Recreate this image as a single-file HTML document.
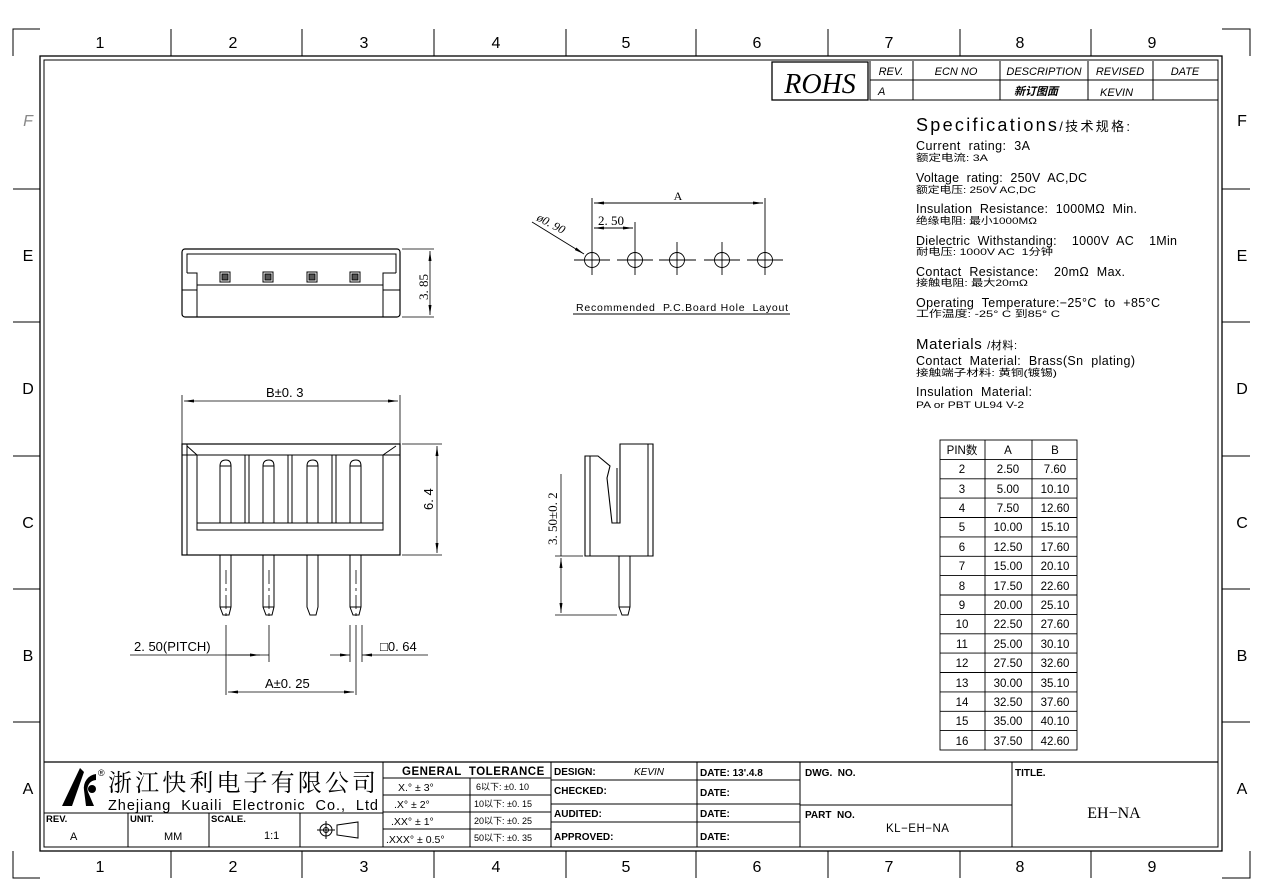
<!DOCTYPE html>
<html><head><meta charset="utf-8"><style>
html,body{margin:0;padding:0;background:#fff;}
svg{display:block;}
text{font-family:"Liberation Sans","Noto Sans CJK SC",sans-serif;fill:#000;white-space:pre;}
.s{font-family:"Liberation Serif","Noto Serif CJK SC",serif;}
.m{font-family:"Liberation Mono","Noto Sans CJK SC",monospace;}
.b{font-weight:bold;}
</style></head><body>
<svg width="1262" height="892" viewBox="0 0 1262 892" xmlns="http://www.w3.org/2000/svg" xml:space="preserve">
<g fill="none" stroke="#000" stroke-width="1">
<rect x="40" y="56" width="1182" height="795" stroke-width="1.3"/>
<rect x="44" y="60" width="1174" height="787"/>
<path d="M13 56V29H40M1222 29H1250V56M13 851V878H40M1222 878H1250V851"/>
<path d="M171 29V56M302 29V56M434 29V56M566 29V56M696 29V56M828 29V56M960 29V56M1091 29V56"/>
<path d="M171 851V878M302 851V878M434 851V878M566 851V878M696 851V878M828 851V878M960 851V878M1091 851V878"/>
<path d="M13 189H40M13 322H40M13 456H40M13 589H40M13 722H40"/>
<path d="M1222 189H1250M1222 322H1250M1222 456H1250M1222 589H1250M1222 722H1250"/>
</g>
<g font-size="16" text-anchor="middle">
<text x="100" y="48">1</text><text x="233" y="48">2</text><text x="364" y="48">3</text><text x="496" y="48">4</text><text x="626" y="48">5</text><text x="757" y="48">6</text><text x="889" y="48">7</text><text x="1020" y="48">8</text><text x="1152" y="48">9</text>
<text x="100" y="872">1</text><text x="233" y="872">2</text><text x="364" y="872">3</text><text x="496" y="872">4</text><text x="626" y="872">5</text><text x="757" y="872">6</text><text x="889" y="872">7</text><text x="1020" y="872">8</text><text x="1152" y="872">9</text>
<text x="28" y="126" font-style="italic" style="fill:#888">F</text><text x="28" y="261">E</text><text x="28" y="394">D</text><text x="28" y="528">C</text><text x="28" y="661">B</text><text x="28" y="794">A</text>
<text x="1242" y="126">F</text><text x="1242" y="261">E</text><text x="1242" y="394">D</text><text x="1242" y="528">C</text><text x="1242" y="661">B</text><text x="1242" y="794">A</text>
</g>

<g fill="none" stroke="#000">
<rect x="772" y="62" width="96" height="38" stroke-width="1.3"/>
<path d="M870 61V100H1218M870 80H1218M913 61V100M1000 61V100M1088 61V100M1153 61V100"/>
</g>
<text x="820" y="93" class="s" font-size="28" text-anchor="middle" font-style="italic">ROHS</text>
<g font-size="11" font-style="italic" text-anchor="middle">
<text x="891" y="75">REV.</text><text x="956" y="75">ECN NO</text><text x="1044" y="75">DESCRIPTION</text><text x="1120" y="75">REVISED</text><text x="1185" y="75">DATE</text>
<text x="878" y="95" text-anchor="start">A</text><text x="1036" y="95" class="b">新订图面</text><text x="1100" y="96" text-anchor="start">KEVIN</text>
</g>

<text x="916" y="131" font-size="18" textLength="214" lengthAdjust="spacing">Specifications<tspan font-size="13">/技术规格:</tspan></text>
<g font-size="12.5">
<text x="916" y="150" textLength="114" lengthAdjust="spacing">Current  rating:  3A</text>
<text x="916" y="182" textLength="171" lengthAdjust="spacing">Voltage  rating:  250V  AC,DC</text>
<text x="916" y="213" textLength="221" lengthAdjust="spacing">Insulation  Resistance:  1000MΩ  Min.</text>
<text x="916" y="245" textLength="261" lengthAdjust="spacing">Dielectric  Withstanding:    1000V  AC    1Min</text>
<text x="916" y="276" textLength="209" lengthAdjust="spacing">Contact  Resistance:    20mΩ  Max.</text>
<text x="916" y="307" textLength="244" lengthAdjust="spacing">Operating  Temperature:−25°C  to  +85°C</text>
<text x="916" y="365" textLength="219" lengthAdjust="spacing">Contact  Material:  Brass(Sn  plating)</text>
<text x="916" y="396" textLength="116" lengthAdjust="spacing">Insulation  Material:</text>
</g>
<text x="916" y="349" font-size="15" textLength="101" lengthAdjust="spacing">Materials <tspan font-size="11">/材料:</tspan></text>
<g font-size="9.5" class="m">
<text x="916" y="161" textLength="72" lengthAdjust="spacingAndGlyphs">额定电流: 3A</text>
<text x="916" y="193" textLength="120" lengthAdjust="spacingAndGlyphs">额定电压: 250V AC,DC</text>
<text x="916" y="224" textLength="121" lengthAdjust="spacingAndGlyphs">绝缘电阻: 最小1000MΩ</text>
<text x="916" y="255" textLength="137" lengthAdjust="spacingAndGlyphs">耐电压: 1000V AC  1分钟</text>
<text x="916" y="286" textLength="112" lengthAdjust="spacingAndGlyphs">接触电阻: 最大20mΩ</text>
<text x="916" y="317" textLength="144" lengthAdjust="spacingAndGlyphs">工作温度: -25° C 到85° C</text>
<text x="916" y="376" textLength="141" lengthAdjust="spacingAndGlyphs">接触端子材料: 黄铜(镀锡)</text>
<text x="916" y="408" textLength="108" lengthAdjust="spacingAndGlyphs">PA or PBT UL94 V-2</text>
</g>

<g fill="none" stroke="#000" stroke-width="0.9">
<rect x="940" y="440" width="137" height="310"/>
<path d="M985 440V750M1032 440V750"/>
<path d="M940 459.4H1077M940 478.8H1077M940 498.1H1077M940 517.5H1077M940 536.9H1077M940 556.3H1077M940 575.6H1077M940 595H1077M940 614.4H1077M940 633.8H1077M940 653.1H1077M940 672.5H1077M940 691.9H1077M940 711.3H1077M940 730.6H1077"/>
</g>
<g font-size="11.5" text-anchor="middle">
<text x="962" y="454">PIN数</text><text x="1008" y="454">A</text><text x="1055" y="454">B</text>
<text x="962" y="473">2</text><text x="1008" y="473">2.50</text><text x="1055" y="473">7.60</text>
<text x="962" y="493">3</text><text x="1008" y="493">5.00</text><text x="1055" y="493">10.10</text>
<text x="962" y="512">4</text><text x="1008" y="512">7.50</text><text x="1055" y="512">12.60</text>
<text x="962" y="531">5</text><text x="1008" y="531">10.00</text><text x="1055" y="531">15.10</text>
<text x="962" y="551">6</text><text x="1008" y="551">12.50</text><text x="1055" y="551">17.60</text>
<text x="962" y="570">7</text><text x="1008" y="570">15.00</text><text x="1055" y="570">20.10</text>
<text x="962" y="590">8</text><text x="1008" y="590">17.50</text><text x="1055" y="590">22.60</text>
<text x="962" y="609">9</text><text x="1008" y="609">20.00</text><text x="1055" y="609">25.10</text>
<text x="962" y="628">10</text><text x="1008" y="628">22.50</text><text x="1055" y="628">27.60</text>
<text x="962" y="648">11</text><text x="1008" y="648">25.00</text><text x="1055" y="648">30.10</text>
<text x="962" y="667">12</text><text x="1008" y="667">27.50</text><text x="1055" y="667">32.60</text>
<text x="962" y="687">13</text><text x="1008" y="687">30.00</text><text x="1055" y="687">35.10</text>
<text x="962" y="706">14</text><text x="1008" y="706">32.50</text><text x="1055" y="706">37.60</text>
<text x="962" y="725">15</text><text x="1008" y="725">35.00</text><text x="1055" y="725">40.10</text>
<text x="962" y="745">16</text><text x="1008" y="745">37.50</text><text x="1055" y="745">42.60</text>
</g>

<defs>
<marker id="ar" markerWidth="10" markerHeight="6" refX="10" refY="3" orient="auto-start-reverse" markerUnits="userSpaceOnUse"><path d="M0 1.5L10 3L0 4.5Z" fill="#000"/></marker>
</defs>

<g fill="none" stroke="#000">
<rect x="182" y="249" width="218" height="68" rx="3" stroke-width="1.2"/>
<path d="M187 273V254H396V273M182 290H197M383 290H400M187 273H197V317M396 273H383V317M197 285H383"/>
<rect x="220" y="272" width="10" height="10"/><rect x="263" y="272" width="10" height="10"/><rect x="307" y="272" width="10" height="10"/><rect x="350" y="272" width="10" height="10"/>
<rect x="222" y="274" width="6" height="6" fill="#555"/><rect x="265" y="274" width="6" height="6" fill="#555"/><rect x="309" y="274" width="6" height="6" fill="#555"/><rect x="352" y="274" width="6" height="6" fill="#555"/>
<path d="M402 249H434M402 317H434" stroke-width="0.8"/>
<path d="M430 251V315" stroke-width="0.8" marker-start="url(#ar)" marker-end="url(#ar)"/>
</g>
<text class="s" font-size="13" transform="translate(428 300) rotate(-90)">3. 85</text>

<g fill="none" stroke="#000">
<path d="M182 395V444M400 395V444" stroke-width="0.8"/>
<path d="M184 401H398" stroke-width="0.8" marker-start="url(#ar)" marker-end="url(#ar)"/>
<rect x="182" y="444" width="218" height="111" stroke-width="1.2"/>
<path d="M187 444V555M182 455H400M197 455V530H383V455M197 523H383"/>
<path d="M197 455L187 446M383 455L396 446"/>
<path d="M245 455V523M249 455V523M288 455V523M292 455V523M332 455V523M336 455V523"/>
<path d="M220 523V466Q220 460 226 460Q231 460 231 466V523M220 466H231"/>
<path d="M263 523V466Q263 460 269 460Q274 460 274 466V523M263 466H274"/>
<path d="M307 523V466Q307 460 313 460Q318 460 318 466V523M307 466H318"/>
<path d="M350 523V466Q350 460 356 460Q361 460 361 466V523M350 466H361"/>
<path d="M220 555V607L223 615H229L231 607V555M220 607H231"/>
<path d="M263 555V607L266 615H272L274 607V555M263 607H274"/>
<path d="M307 555V607L310 615H316L318 607V555"/>
<path d="M350 555V607L353 615H359L361 607V555M350 607H361"/>
<path d="M226 570V620M269 570V620M356 570V620" stroke-dasharray="14,4,3,4" stroke-width="0.8"/>
<path d="M226 625V695M269 625V662M356 625V695M350 625V662M362 625V662" stroke-width="0.8"/>
<path d="M130 655H226M226 655H269" stroke-width="0.8"/>
<path d="M228 655H260" stroke-width="0.8" marker-end="url(#ar)"/>
<path d="M330 655H350" stroke-width="0.8" marker-end="url(#ar)"/>
<path d="M382 655H362" stroke-width="0.8" marker-end="url(#ar)"/>
<path d="M382 655H428" stroke-width="0.8"/>
<path d="M228 692H354" stroke-width="0.8" marker-start="url(#ar)" marker-end="url(#ar)"/>
<path d="M402 444H442M402 555H442" stroke-width="0.8"/>
<path d="M437 446V553" stroke-width="0.8" marker-start="url(#ar)" marker-end="url(#ar)"/>
</g>
<g class="s" font-size="13">
<text x="266" y="397">B±0. 3</text>
<text x="134" y="651">2. 50(PITCH)</text>
<text x="380" y="651">□0. 64</text>
<text x="265" y="688">A±0. 25</text>
<text transform="translate(433 510) rotate(-90)">6. 4</text>
</g>

<g fill="none" stroke="#000" stroke-width="0.9">
<circle cx="592" cy="260" r="7.5"/><circle cx="635" cy="260" r="7.5"/><circle cx="677" cy="260" r="7.5"/><circle cx="722" cy="260" r="7.5"/><circle cx="765" cy="260" r="7.5"/>
<path d="M574 260H610M617 260H653M659 260H696M704 260H740M747 260H783"/>
<path d="M592 198V275M765 198V275M635 222V275M677 242V275M722 242V275"/>
<path d="M594 203H763" marker-start="url(#ar)" marker-end="url(#ar)"/>
<path d="M594 228H633" marker-start="url(#ar)" marker-end="url(#ar)"/>
<path d="M532 222L584 254" marker-end="url(#ar)"/>
<path d="M573 314H790"/>
</g>
<text x="678" y="200" class="s" font-size="12" text-anchor="middle">A</text>
<text x="598" y="225" class="s" font-size="13">2. 50</text>
<text class="s" font-size="12" font-style="italic" transform="translate(536 220) rotate(28)">ø0. 90</text>
<text x="576" y="311" font-size="10.5" textLength="212" lengthAdjust="spacing">Recommended  P.C.Board Hole  Layout</text>

<g fill="none" stroke="#000">
<path d="M585 556V456H598L610 466L607 478L612 523H620V444H653V556Z" stroke-width="1.1"/>
<path d="M590 456V556M648 444V556M617 468V523"/>
<path d="M619 556V607L622 615H628L630 607V556M619 607H630"/>
<path d="M555 556H583M555 615H617" stroke-width="0.8"/>
<path d="M561 474V556" stroke-width="0.8"/>
<path d="M561 558V613" stroke-width="0.8" marker-start="url(#ar)" marker-end="url(#ar)"/>
</g>
<text class="s" font-size="13" transform="translate(557 545) rotate(-90)">3. 50±0. 2</text>

<g fill="none" stroke="#000">
<path d="M44 762H1218" stroke-width="1.3"/>
<path d="M383 762V847M551 762V847M697 762V847M800 762V847M1012 762V847"/>
<path d="M44 813H383M128 813V847M209 813V847M300 813V847"/>
<path d="M383 778H551M383 795H551M383 812H551M383 829H551M470 778V847"/>
<path d="M551 780H800M551 804H800M551 822H800"/>
<path d="M800 805H1012"/>
</g>
<path d="M62 806L80 768L84 772L72 806Z" fill="#000"/>
<path d="M84 790A14 14 0 0 1 96 774L96 780A9 9 0 0 0 88 792L94 806L86 806Z" fill="#000"/>
<circle cx="92" cy="789" r="4" fill="#000"/>
<text x="98" y="776" font-size="9">®</text>
<text x="108" y="791" font-size="24" class="s" textLength="268" lengthAdjust="spacing">浙江快利电子有限公司</text>
<text x="108" y="810" font-size="14.5" textLength="270" lengthAdjust="spacing">Zhejiang  Kuaili  Electronic  Co.,  Ltd</text>
<g font-size="9.5" class="b">
<text x="46" y="822">REV.</text><text x="130" y="822">UNIT.</text><text x="211" y="822">SCALE.</text>
</g>
<g font-size="11">
<text x="70" y="840">A</text><text x="164" y="840">MM</text><text x="264" y="839">1:1</text>
</g>
<g fill="none" stroke="#000"><circle cx="326" cy="830" r="6"/><circle cx="326" cy="830" r="2.5"/><path d="M317 830H335M326 821V839M337 825L358 822V838L337 835Z"/></g>
<g font-size="11.5" class="b"><text x="402" y="775" letter-spacing="0.5">GENERAL  TOLERANCE</text></g>
<g font-size="10.5">
<text x="398" y="791">X.° ± 3°</text><text x="394" y="808">.X° ± 2°</text><text x="391" y="825">.XX° ± 1°</text><text x="386" y="843">.XXX° ± 0.5°</text>
</g>
<g font-size="9" class="m">
<text x="476" y="790">6以下: ±0. 10</text><text x="474" y="807">10以下: ±0. 15</text><text x="474" y="824">20以下: ±0. 25</text><text x="474" y="841">50以下: ±0. 35</text>
</g>
<g font-size="10" class="b">
<text x="554" y="775">DESIGN:</text><text x="554" y="794">CHECKED:</text><text x="554" y="817">AUDITED:</text><text x="554" y="840">APPROVED:</text>
<text x="700" y="776">DATE: 13'.4.8</text><text x="700" y="796">DATE:</text><text x="700" y="817">DATE:</text><text x="700" y="840">DATE:</text>
<text x="805" y="776">DWG.  NO.</text><text x="805" y="818">PART  NO.</text><text x="1015" y="776">TITLE.</text>
</g>
<text x="634" y="775" font-size="10" font-style="italic">KEVIN</text>
<text x="886" y="832" font-size="11.5" letter-spacing="0.5">KL−EH−NA</text>
<text x="1114" y="818" font-size="16" class="s" text-anchor="middle">EH−NA</text>
</svg>
</body></html>
